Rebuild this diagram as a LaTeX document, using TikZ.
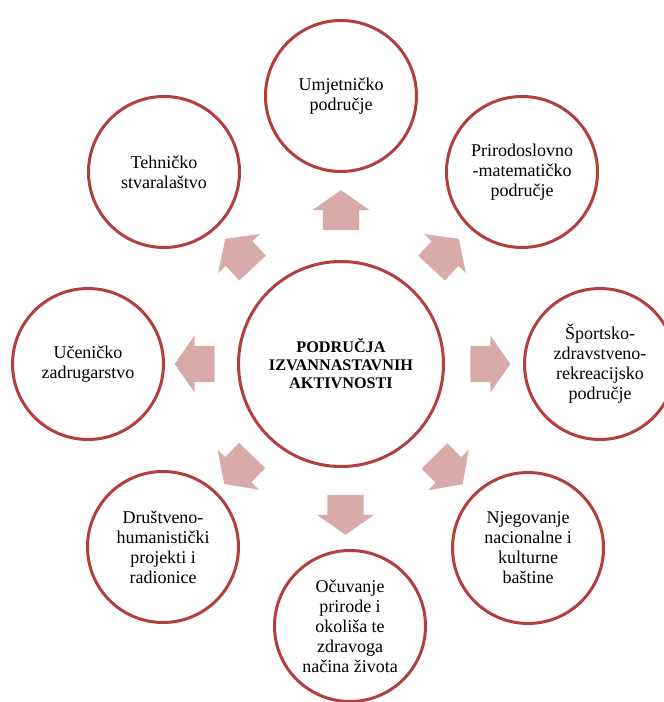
\documentclass[tikz,border=0pt]{standalone}
\usepackage{fontspec}
\setmainfont{Liberation Serif}
\usetikzlibrary{positioning}
\usetikzlibrary{shapes.arrows}
\usetikzlibrary{calc}

\definecolor{ringred}{RGB}{178,62,62}
\definecolor{arrowpink}{RGB}{217,170,170}

\begin{document}
\begin{tikzpicture}[x=1pt, y=1pt, on grid,
    area/.style={circle, draw=ringred, line width=3pt, minimum size=151pt,
        inner sep=0pt, align=center, font=\fontsize{18pt}{20pt}\selectfont},
    hub/.style={area, minimum size=205pt,
        font=\bfseries\fontsize{16.2pt}{18pt}\selectfont},
    blockarrow/.style={single arrow, fill=arrowpink, minimum height=40pt,
        inner xsep=0pt, inner ysep=18pt, single arrow head extend=10.5pt,
        single arrow tip angle=110}]
    \useasboundingbox (0,0) rectangle (664,702);
    % set up the nodes
    \node[hub] (centre) at (341,338) {PODRUČJA\\IZVANNASTAVNIH\\AKTIVNOSTI};
    \node[area, above=268pt of centre] (art) {Umjetničko\\područje};
    \node[area, above right=192pt and 181pt of centre] (science) {Prirodoslovno\\-matematičko\\područje};
    \node[area, right=259pt of centre] (sport) {Športsko-\\zdravstveno-\\rekreacijsko\\područje};
    \node[area, below right=184pt and 187pt of centre] (heritage) {Njegovanje\\nacionalne i\\kulturne\\baštine};
    \node[area, below right=262pt and 9pt of centre] (nature) {Očuvanje\\prirode i\\okoliša te\\zdravoga\\načina života};
    \node[area, below left=183pt and 178pt of centre] (society) {Društveno-\\humanistički\\projekti i\\radionice};
    \node[area, left=253pt of centre] (coop) {Učeničko\\zadrugarstvo};
    \node[area, above left=192pt and 177pt of centre] (tech) {Tehničko\\stvaralaštvo};
    % draw the arrows between the circles
    \node[blockarrow, rotate=90] (a1) at ($(centre.north)!.5!(art.south)$) {};
    \node[blockarrow, rotate=47] (a2) at ($(centre.47)!.5!(science.227)$) {};
    \node[blockarrow] (a3) at ($(centre.east)!.5!(sport.west)$) {};
    \node[blockarrow, rotate=-45] (a4) at ($(centre.-45)!.5!(heritage.135)$) {};
    \node[blockarrow, rotate=-90] (a5) at ($(centre.south)!.5!(nature.north)$) {};
    \node[blockarrow, rotate=-134] (a6) at ($(centre.-134)!.5!(society.46)$) {};
    \node[blockarrow, rotate=180] (a7) at ($(centre.west)!.5!(coop.east)$) {};
    \node[blockarrow, rotate=133] (a8) at ($(centre.133)!.5!(tech.-47)$) {};
\end{tikzpicture}
\end{document}
